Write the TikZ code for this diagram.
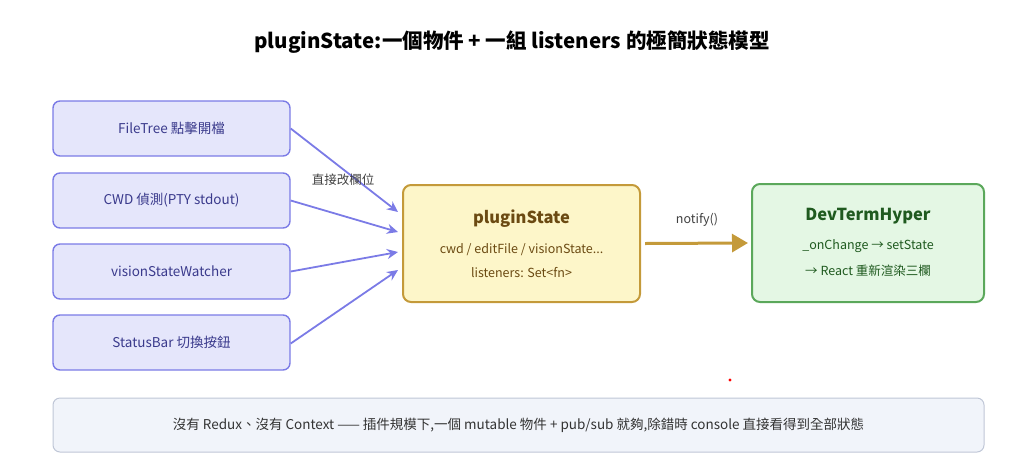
\documentclass[tikz,border=0pt]{standalone}
\usepackage{fontspec}
\setmainfont{Noto Sans CJK TC}
\usetikzlibrary{arrows.meta}
\definecolor{lf}{HTML}{E5E6FB}\definecolor{lb}{HTML}{7B7BE6}\definecolor{lt}{HTML}{3A3A8C}
\definecolor{cf}{HTML}{FDF6C9}\definecolor{cb}{HTML}{C49A3A}\definecolor{ct}{HTML}{6B4A12}
\definecolor{rf}{HTML}{E4F7E4}\definecolor{rb}{HTML}{5BA85B}\definecolor{rt}{HTML}{1F5A1F}
\definecolor{bf}{HTML}{F1F4FA}\definecolor{bb}{HTML}{BFC6D6}
\begin{document}
\begin{tikzpicture}[x=1pt,y=-1pt,
 lbox/.style={draw=lb,fill=lf,line width=1.4pt,rounded corners=7pt,minimum width=237pt,minimum height=55pt,text=lt,font=\fontsize{13.5}{16}\selectfont},
 arr/.style={draw=lb,line width=1.8pt,-{Stealth[length=11pt,width=10pt]}}]
\useasboundingbox (0,0) rectangle (1024,472);
\node[font=\bfseries\fontsize{20.5}{24}\selectfont] (t) at (512,42) {pluginState:一個物件 + 一組 listeners 的極簡狀態模型};
\node[lbox] (a) at (171.5,128.5) {FileTree 點擊開檔};
\node[lbox] (b) at (171.5,200.5) {CWD 偵測(PTY stdout)};
\node[lbox] (c) at (171.5,271.5) {visionStateWatcher};
\node[lbox] (d) at (171.5,342.5) {StatusBar 切換按鈕};
\node[draw=cb,fill=cf,line width=2pt,rounded corners=8pt,minimum width=237pt,minimum height=117pt] (p) at (521.5,243.5) {};
\node[text=ct,font=\bfseries\fontsize{16.5}{19}\selectfont] (pt) at (521.5,219) {pluginState};
\node[text=ct,font=\fontsize{12.5}{15}\selectfont] (p1) at (521.5,250) {cwd / editFile / visionState...};
\node[text=ct,font=\fontsize{12.5}{15}\selectfont] (p2) at (521.5,273) {listeners: Set<fn>};
\node[draw=rb,fill=rf,line width=2pt,rounded corners=8pt,minimum width=232pt,minimum height=118pt] (r) at (868,243) {};
\node[text=rt,font=\bfseries\fontsize{16.5}{19}\selectfont] (rt1) at (868,216) {DevTermHyper};
\node[text=rt,font=\fontsize{12.5}{15}\selectfont] (r1) at (868,246) {\_onChange → setState};
\node[text=rt,font=\fontsize{12.5}{15}\selectfont] (r2) at (868,271) {→ React 重新渲染三欄};
\coordinate (ea) at (398,212);\coordinate (eb) at (398,232);\coordinate (ec) at (398,252);\coordinate (ed) at (398,270);
\draw[arr] (a.east) -- (ea);
\draw[arr] (b.east) -- (eb);
\draw[arr] (c.east) -- (ec);
\draw[arr] ([yshift=-1pt]d.east) -- (ed);
\node[font=\fontsize{12.5}{15}\selectfont,text=black!75] (lab) at (343,180) {直接改欄位};
\draw[draw=cb,line width=3pt,-{Triangle[length=16pt,width=18pt]}] (p.east) ++(4,0) coordinate (s) -- ([xshift=-3pt]r.west);
\node[font=\fontsize{12.5}{15}\selectfont,text=black!75] (nl) at (697,220) {notify()};
\node[draw=bb,fill=bf,line width=1pt,rounded corners=7pt,minimum width=931pt,minimum height=54pt,font=\fontsize{13.5}{16}\selectfont,text=black!80] (bt) at (518.5,425) {沒有 Redux、沒有 Context —— 插件規模下,一個 mutable 物件 + pub/sub 就夠,除錯時 console 直接看得到全部狀態};
\fill[red] (730,380) circle (1.6);
\end{tikzpicture}
\end{document}
